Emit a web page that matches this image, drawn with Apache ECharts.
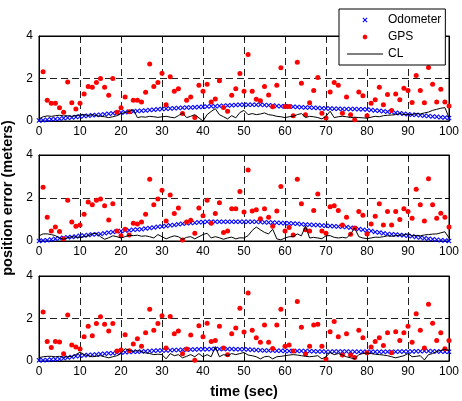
<!DOCTYPE html>
<html><head><meta charset="utf-8">
<script src="https://cdn.jsdelivr.net/npm/echarts@6/dist/echarts.min.js"></script>
<style>html,body{margin:0;padding:0;background:#fff}#c{width:462px;height:401px}</style>
</head><body><div id="c"></div>
<script>
// time stamps (sec)
const times = [0,1,2,3,4,5,6,7,8,9,10,11,12,13,14,15,16,17,18,19,20,21,22,23,24,25,26,27,28,29,30,31,32,33,34,35,36,37,38,39,40,41,42,43,44,45,46,47,48,49,50,51,52,53,54,55,56,57,58,59,60,61,62,63,64,65,66,67,68,69,70,71,72,73,74,75,76,77,78,79,80,81,82,83,84,85,86,87,88,89,90,91,92,93,94,95,96,97,98,99,100];
const gpsTimes = times.slice(1);

// Panel 1
const odo1 = [0.02,0.04,0.06,0.08,0.10,0.11,0.13,0.15,0.17,0.19,0.21,0.23,0.25,0.27,0.28,0.30,0.32,0.34,0.36,0.38,0.40,0.41,0.43,0.45,0.47,0.48,0.50,0.52,0.53,0.55,0.57,0.58,0.59,0.60,0.61,0.62,0.63,0.64,0.65,0.66,0.67,0.68,0.69,0.70,0.71,0.72,0.73,0.74,0.75,0.76,0.76,0.77,0.77,0.76,0.76,0.75,0.74,0.73,0.71,0.70,0.69,0.68,0.67,0.66,0.65,0.64,0.63,0.62,0.61,0.60,0.59,0.59,0.58,0.58,0.57,0.57,0.56,0.56,0.55,0.55,0.54,0.52,0.50,0.48,0.46,0.44,0.42,0.39,0.37,0.34,0.32,0.30,0.29,0.27,0.25,0.23,0.21,0.20,0.18,0.16,0.14];
const gps1 = [2.32,0.98,0.83,0.83,0.62,0.41,1.83,0.86,0.57,0.83,1.27,1.62,1.59,1.81,2.0,1.59,1.21,2.0,0.41,0.62,1.13,0.43,0.98,0.98,0.9,1.35,2.68,1.62,1.81,2.25,0.76,2.08,1.4,1.52,0.35,0.98,1.13,0.16,1.68,1.4,1.73,0.9,1.03,1.89,0.63,0.46,1.21,1.52,2.24,1.4,3.13,1.4,1.02,0.95,1.62,1.22,0.67,1.68,2.51,0.68,0.68,0.25,2.76,1.78,0.3,0.86,1.44,2.05,0.37,0.14,1.37,1.81,1.68,0.37,1.13,0.29,0.06,1.37,1.19,0.25,0.84,1.0,1.59,0.76,1.25,0.49,1.27,1.0,1.54,1.44,0.87,2.14,1.44,0.86,2.52,1.73,0.9,1.49,0.9,0.71];
const cl1 = [0.1,0.2,0.24,0.22,0.25,0.27,0.24,0.25,0.22,0.26,0.28,0.3,0.26,0.3,0.25,0.22,0.2,0.16,0.2,0.25,0.35,0.4,0.45,0.54,0.16,0.2,0.18,0.22,0.2,0.17,0.2,0.22,0.18,0.15,0.25,0.38,0.16,0.22,0.3,0.15,0.0,0.3,0.45,0.58,0.3,0.2,0.1,0.25,0.15,0.4,0.5,0.3,0.35,0.3,0.33,0.38,0.3,0.27,0.22,0.2,0.16,0.2,0.22,0.3,0.35,0.16,0.22,0.2,0.16,0.1,0.22,0.46,0.16,0.2,0.22,0.2,0.16,0.18,0.16,0.15,0.13,0.18,0.22,0.2,0.25,0.27,0.28,0.3,0.35,0.3,0.32,0.3,0.35,0.33,0.38,0.42,0.5,0.55,0.6,0.63,0.16];

// Panel 2
const odo2 = [0.0,0.02,0.04,0.07,0.1,0.13,0.15,0.17,0.19,0.21,0.24,0.26,0.28,0.3,0.31,0.33,0.36,0.39,0.42,0.45,0.47,0.49,0.5,0.52,0.53,0.55,0.58,0.6,0.63,0.66,0.68,0.7,0.73,0.75,0.78,0.8,0.82,0.84,0.85,0.87,0.88,0.89,0.89,0.9,0.9,0.9,0.9,0.9,0.9,0.9,0.9,0.9,0.89,0.89,0.88,0.87,0.86,0.86,0.85,0.84,0.83,0.82,0.81,0.8,0.78,0.77,0.76,0.75,0.74,0.72,0.71,0.7,0.69,0.68,0.66,0.65,0.62,0.59,0.56,0.52,0.49,0.46,0.42,0.39,0.36,0.33,0.31,0.3,0.28,0.27,0.25,0.22,0.19,0.16,0.13,0.1,0.08,0.06,0.04,0.02,0.0];
const gps2 = [2.5,1.1,0.47,0.65,0.44,0.1,1.9,0.88,0.69,0.74,1.24,1.81,1.69,1.9,1.95,1.64,0.98,1.73,0.47,0.24,0.55,0.28,0.83,0.79,0.88,1.24,2.87,1.69,1.95,2.36,0.93,2.14,1.28,1.54,0.05,0.88,0.96,0.36,1.54,1.18,1.9,0.82,1.28,1.78,0.39,0.47,1.5,1.5,2.3,1.35,3.3,1.4,1.45,1.04,1.5,1.1,0.69,1.4,2.54,0.47,0.63,0.28,2.87,1.73,0.52,0.47,1.42,2.19,0.47,0.36,1.59,1.64,1.42,0.74,1.1,0.31,0.6,1.37,1.2,0.33,0.79,1.15,1.73,0.74,1.37,0.74,1.37,1.0,1.5,1.37,1.06,2.41,1.69,0.93,2.9,1.69,1.06,1.29,1.1,0.65];
const cl2 = [0.24,0.33,0.33,0.3,0.25,0.14,0.08,0.15,0.2,0.18,0.17,0.2,0.24,0.33,0.36,0.2,0.08,0.15,0.24,0.2,0.14,0.2,0.27,0.25,0.27,0.22,0.24,0.2,0.14,0.3,0.2,0.1,0.18,0.24,0.2,0.08,0.17,0.2,0.1,0.2,0.3,0.36,0.14,0.2,0.15,0.08,0.14,0.18,0.1,0.15,0.14,0.25,0.49,0.65,0.52,0.4,0.33,0.55,0.1,0.05,0.14,0.2,0.2,0.33,0.24,0.7,0.14,0.17,0.14,0.11,0.24,0.25,0.17,0.14,0.17,0.14,0.33,0.6,0.2,0.14,0.11,0.14,0.18,0.17,0.2,0.24,0.22,0.24,0.28,0.27,0.33,0.24,0.26,0.24,0.28,0.3,0.32,0.33,0.38,0.43,0.14];

// Panel 3
const odo3 = [0.03,0.04,0.05,0.07,0.08,0.1,0.13,0.16,0.19,0.22,0.25,0.27,0.28,0.3,0.31,0.33,0.34,0.36,0.37,0.39,0.4,0.41,0.42,0.43,0.44,0.45,0.46,0.47,0.48,0.49,0.5,0.5,0.51,0.52,0.52,0.53,0.53,0.54,0.54,0.55,0.55,0.55,0.56,0.56,0.56,0.56,0.56,0.56,0.55,0.55,0.55,0.54,0.53,0.52,0.51,0.5,0.5,0.49,0.48,0.48,0.47,0.47,0.47,0.47,0.47,0.47,0.46,0.46,0.45,0.45,0.44,0.44,0.45,0.45,0.45,0.45,0.44,0.44,0.44,0.44,0.44,0.44,0.44,0.44,0.44,0.44,0.44,0.44,0.45,0.45,0.45,0.45,0.46,0.46,0.47,0.47,0.46,0.45,0.45,0.44,0.44];
const gps3 = [2.31,0.92,0.64,0.92,0.89,0.34,2.17,0.75,0.66,0.56,1.14,1.64,1.19,1.77,2.08,1.73,1.41,1.77,0.47,0.52,1.23,0.48,0.8,1.05,0.7,1.33,2.44,1.45,1.77,2.13,0.61,2.09,1.28,1.41,0.34,0.56,1.22,0.03,1.66,1.14,1.78,0.92,0.97,1.64,0.61,0.3,1.28,1.55,2.48,1.36,3.2,1.45,1.09,0.88,1.69,0.88,0.59,1.69,2.44,0.69,0.75,0.47,2.8,1.59,0.33,0.69,1.69,1.73,0.69,0.09,1.38,1.86,1.14,0.28,1.28,0.28,0.16,1.45,1.09,0.39,0.66,0.92,1.09,0.73,1.33,0.39,1.38,0.97,1.33,1.64,0.88,2.22,1.45,0.61,2.67,1.78,0.97,1.33,0.58,0.97];
const cl3 = [0.16,0.2,0.22,0.22,0.2,0.22,0.18,0.2,0.22,0.3,0.42,0.3,0.25,0.2,0.22,0.25,0.2,0.15,0.2,0.25,0.35,0.58,0.5,0.45,0.5,0.44,0.38,0.35,0.3,0.32,0.3,0.1,0.35,0.25,0.3,0.15,0.22,0.3,0.2,0.35,0.2,0.3,0.2,0.68,0.2,0.3,0.25,0.35,0.3,0.35,0.4,0.28,0.25,0.2,0.1,0.2,0.22,0.1,0.2,0.22,0.25,0.28,0.3,0.28,0.25,0.22,0.2,0.22,0.25,0.1,0.2,0.4,0.3,0.35,0.28,0.2,0.15,0.1,0.3,0.35,0.38,0.35,0.32,0.3,0.28,0.25,0.2,0.15,0.2,0.25,0.35,0.2,0.22,0.25,0.05,0.3,0.35,0.45,0.5,0.55,0.5];

const xTicks = {min: 0, max: 100, interval: 10};
const yTicks = {min: 0, max: 4, interval: 2};
const seriesNames = ['Odometer', 'GPS', 'CL'];

const odoSets = [odo1, odo2, odo3];
const gpsSets = [gps1, gps2, gps3];
const clSets = [cl1, cl2, cl3];

const FONT = '"Liberation Sans", Arial, Helvetica, sans-serif';
const pairs = (xs, ys) => ys.map((v, i) => [xs[i], v]);
const X_SYM = 'path://M0,1.5L1.5,0L5,3.5L8.5,0L10,1.5L6.5,5L10,8.5L8.5,10L5,6.5L1.5,10L0,8.5L3.5,5Z';
const X_LEG = 'path://M0,0M14,14M4.5,5.25L5.25,4.5L7,6.25L8.75,4.5L9.5,5.25L7.75,7L9.5,8.75L8.75,9.5L7,7.75L5.25,9.5L4.5,8.75L6.25,7Z';
const DOT_LEG = 'path://M0,0M14,14M9.4,7L8.7,8.7L7,9.4L5.3,8.7L4.6,7L5.3,5.3L7,4.6L8.7,5.3Z';
const LINE_LEG = 'path://M0,0M0,6.5L36,6.5L36,7.5L0,7.5ZM36,14';
const GRID_DASH = {color: '#222', width: 1, type: [7, 4]};

const panels = [{top: 36, height: 85}, {top: 155, height: 86}, {top: 276, height: 85}];

const grid = [], xAxis = [], yAxis = [], series = [];
panels.forEach((p, i) => {
  grid.push({left: 39, width: 410, top: p.top, height: p.height, show: true,
    borderColor: '#000', borderWidth: 1, backgroundColor: '#fff', containLabel: false, outerBoundsMode: 'none'});
  const xb = {gridIndex: i, type: 'value', position: 'bottom', ...xTicks,
    axisLine: {show: true, onZero: false, lineStyle: {color: '#000', width: 1}},
    axisTick: {show: true, inside: true, length: 4, lineStyle: {color: '#000'}},
    axisLabel: {show: true, color: '#000', fontSize: 12, fontFamily: FONT, margin: 5},
    splitLine: {show: true, showMinLine: false, showMaxLine: false, lineStyle: GRID_DASH}};
  if (i === 2) {
    xb.name = 'time (sec)'; xb.nameLocation = 'middle'; xb.nameGap = 23;
    xb.nameTextStyle = {fontSize: 14.5, fontWeight: 'bold', color: '#000', fontFamily: FONT};
  }
  xAxis.push(xb);
  xAxis.push({gridIndex: i, type: 'value', position: 'top', ...xTicks,
    axisLine: {show: true, onZero: false, lineStyle: {color: '#000'}},
    axisTick: {show: true, inside: true, length: 4, lineStyle: {color: '#000'}},
    axisLabel: {show: false}, splitLine: {show: false}});
  const yl = {gridIndex: i, type: 'value', position: 'left', ...yTicks,
    axisLine: {show: true, onZero: false, lineStyle: {color: '#000', width: 1}},
    axisTick: {show: true, inside: true, length: 4, lineStyle: {color: '#000'}},
    axisLabel: {show: true, color: '#000', fontSize: 12, fontFamily: FONT, margin: 6},
    splitLine: {show: true, showMinLine: false, showMaxLine: false, lineStyle: GRID_DASH}};
  if (i === 1) {
    yl.name = 'position error (meters)'; yl.nameLocation = 'middle'; yl.nameGap = 18;
    yl.nameTextStyle = {fontSize: 14.5, fontWeight: 'bold', color: '#000', fontFamily: FONT};
  }
  yAxis.push(yl);
  yAxis.push({gridIndex: i, type: 'value', position: 'right', ...yTicks,
    axisLine: {show: true, onZero: false, lineStyle: {color: '#000'}},
    axisTick: {show: true, inside: true, length: 4, lineStyle: {color: '#000'}},
    axisLabel: {show: false}, splitLine: {show: false}});

  series.push({name: seriesNames[0], type: 'scatter', xAxisIndex: 2 * i, yAxisIndex: 2 * i,
    data: pairs(times, odoSets[i]), symbol: X_SYM, symbolSize: 5,
    itemStyle: {color: '#0000ff', opacity: 1}, z: 2, silent: true});
  series.push({name: seriesNames[1], type: 'scatter', xAxisIndex: 2 * i, yAxisIndex: 2 * i,
    data: pairs(gpsTimes, gpsSets[i]), symbol: 'circle', symbolSize: 5,
    itemStyle: {color: '#ff0000', opacity: 1}, z: 3, silent: true});
  series.push({name: seriesNames[2], type: 'line', xAxisIndex: 2 * i, yAxisIndex: 2 * i,
    data: pairs(times, clSets[i]), symbol: 'none', showSymbol: false,
    lineStyle: {color: '#000', width: 1}, itemStyle: {color: '#000'}, z: 4, silent: true});
});

const chart = echarts.init(document.getElementById('c'), null, {renderer: 'canvas'});
chart.setOption({
  animation: false,
  backgroundColor: '#fff',
  grid, xAxis, yAxis, series,
  legend: {
    orient: 'vertical', left: 339, top: 9, padding: [4, 4, 4, 8], itemGap: 3,
    itemWidth: 36, itemHeight: 14, backgroundColor: '#fff', borderColor: '#000', borderWidth: 1,
    borderRadius: 0, selectedMode: false, z: 20,
    itemStyle: {borderWidth: 0, borderColor: 'transparent'},
    textStyle: {fontSize: 12, color: '#000', fontFamily: FONT},
    data: [
      {name: 'Odometer', icon: X_LEG},
      {name: 'GPS', icon: DOT_LEG},
      {name: 'CL', icon: LINE_LEG, itemStyle: {color: '#000'}}
    ]
  }
});
</script></body></html>
